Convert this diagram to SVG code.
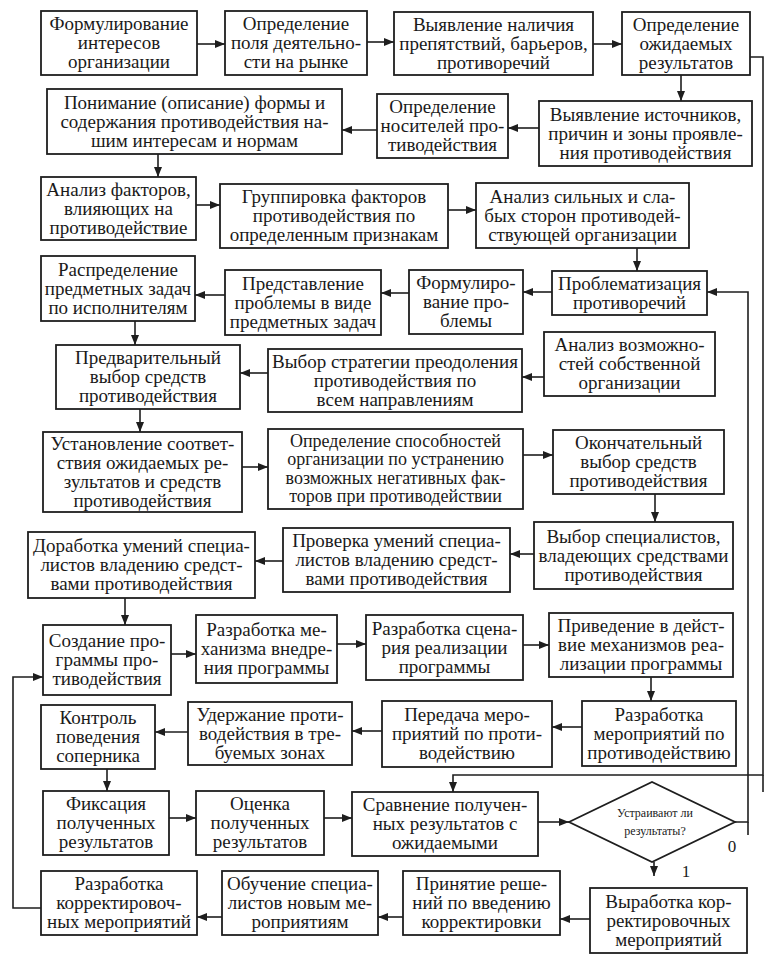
<svg xmlns="http://www.w3.org/2000/svg" width="779" height="976" viewBox="0 0 779 976">
<style>
.b{fill:#fff;stroke:#1e1e1e;stroke-width:1.8}
.t{font-family:"Liberation Serif","Times New Roman",serif;font-size:19px;text-anchor:middle;fill:#1a1a1a}
.t4{font-size:18px}
.s{font-family:"Liberation Serif","Times New Roman",serif;font-size:12px;text-anchor:middle;fill:#1a1a1a}
.c{fill:none;stroke:#1e1e1e;stroke-width:1.6}
.a{marker-end:url(#ar)}
</style>
<defs>
<marker id="ar" markerUnits="userSpaceOnUse" markerWidth="10" markerHeight="8" refX="10" refY="4" orient="auto">
<path d="M0,0 L10,4 L0,8 z" fill="#1e1e1e"/>
</marker>
</defs>
<rect width="779" height="976" fill="#fff"/>
<g id="connectors">
<path class="c a" d="M197,44 H225"/>
<path class="c a" d="M367,42 H394"/>
<path class="c a" d="M593,44 H622"/>
<path class="c a" d="M750,57 H763 V775 H453 V792"/>
<path class="c" d="M763,775 V792"/>
<path class="c a" d="M681,75 V101"/>
<path class="c a" d="M539,128 H508"/>
<path class="c a" d="M377,130 H342"/>
<path class="c a" d="M158,154 V177"/>
<path class="c a" d="M196,205 H220"/>
<path class="c a" d="M448,210 H476"/>
<path class="c a" d="M637,248 V271"/>
<path class="c a" d="M735,822 H748 V292 H707"/>
<path class="c" d="M748,822 V835"/>
<path class="c a" d="M552,292 H523"/>
<path class="c a" d="M409,293 H381"/>
<path class="c a" d="M225,295 H195"/>
<path class="c a" d="M135,321 V345"/>
<path class="c a" d="M268,373 H240"/>
<path class="c a" d="M544,377 H522"/>
<path class="c a" d="M140,409 V432"/>
<path class="c a" d="M242,467 H268"/>
<path class="c a" d="M523,455 H553"/>
<path class="c a" d="M655,494 V522"/>
<path class="c a" d="M534,554 H510"/>
<path class="c a" d="M283,561 H255"/>
<path class="c a" d="M125,598 V625"/>
<path class="c a" d="M171,654 H196"/>
<path class="c a" d="M337,644 H366"/>
<path class="c a" d="M523,645 H549"/>
<path class="c a" d="M651,677 V701"/>
<path class="c a" d="M582,727 H552"/>
<path class="c a" d="M382,731 H352"/>
<path class="c a" d="M188,732 H155"/>
<path class="c a" d="M107,769 V791"/>
<path class="c a" d="M169,818 H196"/>
<path class="c a" d="M324,818 H352"/>
<path class="c a" d="M538,822 H569"/>
<path class="c a" d="M654,862 V876"/>
<path class="c a" d="M590,919 H560"/>
<path class="c a" d="M403,917 H378"/>
<path class="c a" d="M222,917 H197"/>
<path class="c a" d="M41,908 H13 V677 H43"/>
</g>
<g id="n1"><rect class="b" x="41" y="11" width="156" height="64"/><text class="t" x="119" y="30">Формулирование</text><text class="t" x="119" y="49">интересов</text><text class="t" x="119" y="68">организации</text></g>
<g id="n2"><rect class="b" x="225" y="11" width="142" height="64"/><text class="t" x="296" y="30">Определение</text><text class="t" x="296" y="49">поля деятельно-</text><text class="t" x="296" y="68">сти на рынке</text></g>
<g id="n3"><rect class="b" x="394" y="12" width="199" height="63"/><text class="t" x="493.5" y="30.5">Выявление наличия</text><text class="t" x="493.5" y="49.5">препятствий, барьеров,</text><text class="t" x="493.5" y="68.5">противоречий</text></g>
<g id="n4"><rect class="b" x="622" y="12" width="128" height="63"/><text class="t" x="686" y="30.5">Определение</text><text class="t" x="686" y="49.5">ожидаемых</text><text class="t" x="686" y="68.5">результатов</text></g>
<g id="n5"><rect class="b" x="539" y="101" width="213" height="65"/><text class="t" x="645.5" y="120.5">Выявление источников,</text><text class="t" x="645.5" y="139.5">причин и зоны проявле-</text><text class="t" x="645.5" y="158.5">ния противодействия</text></g>
<g id="n6"><rect class="b" x="377" y="94" width="131" height="64"/><text class="t" x="442.5" y="113">Определение</text><text class="t" x="442.5" y="132">носителей про-</text><text class="t" x="442.5" y="151">тиводействия</text></g>
<g id="n7"><rect class="b" x="47" y="89" width="295" height="65"/><text class="t" x="194.5" y="108.5">Понимание (описание) формы и</text><text class="t" x="194.5" y="127.5">содержания противодействия на-</text><text class="t" x="194.5" y="146.5">шим интересам и нормам</text></g>
<g id="n8"><rect class="b" x="41" y="177" width="155" height="63"/><text class="t" x="118.5" y="195.5">Анализ факторов,</text><text class="t" x="118.5" y="214.5">влияющих на</text><text class="t" x="118.5" y="233.5">противодействие</text></g>
<g id="n9"><rect class="b" x="220" y="184" width="228" height="64"/><text class="t" x="334" y="203">Группировка факторов</text><text class="t" x="334" y="222">противодействия по</text><text class="t" x="334" y="241">определенным признакам</text></g>
<g id="n10"><rect class="b" x="476" y="183" width="213" height="65"/><text class="t" x="582.5" y="202.5">Анализ сильных и сла-</text><text class="t" x="582.5" y="221.5">бых сторон противодей-</text><text class="t" x="582.5" y="240.5">ствующей организации</text></g>
<g id="n11"><rect class="b" x="552" y="271" width="155" height="44"/><text class="t" x="629.5" y="289.5">Проблематизация</text><text class="t" x="629.5" y="308.5">противоречий</text></g>
<g id="n12"><rect class="b" x="409" y="270" width="114" height="64"/><text class="t" x="466" y="289">Формулиро-</text><text class="t" x="466" y="308">вание про-</text><text class="t" x="466" y="327">блемы</text></g>
<g id="n13"><rect class="b" x="225" y="270" width="156" height="65"/><text class="t" x="303" y="289.5">Представление</text><text class="t" x="303" y="308.5">проблемы в виде</text><text class="t" x="303" y="327.5">предметных задач</text></g>
<g id="n14"><rect class="b" x="41" y="256" width="154" height="65"/><text class="t" x="118" y="275.5">Распределение</text><text class="t" x="118" y="294.5">предметных задач</text><text class="t" x="118" y="313.5">по исполнителям</text></g>
<g id="n15"><rect class="b" x="56" y="345" width="184" height="64"/><text class="t" x="148" y="364">Предварительный</text><text class="t" x="148" y="383">выбор средств</text><text class="t" x="148" y="402">противодействия</text></g>
<g id="n16"><rect class="b" x="268" y="349" width="254" height="63"/><text class="t" x="395" y="367.5">Выбор стратегии преодоления</text><text class="t" x="395" y="386.5">противодействия по</text><text class="t" x="395" y="405.5">всем направлениям</text></g>
<g id="n17"><rect class="b" x="544" y="332" width="171" height="64"/><text class="t" x="629.5" y="351">Анализ возможно-</text><text class="t" x="629.5" y="370">стей собственной</text><text class="t" x="629.5" y="389">организации</text></g>
<g id="n18"><rect class="b" x="43" y="432" width="199" height="80"/><text class="t" x="142.5" y="449.5">Установление соответ-</text><text class="t" x="142.5" y="468.5">ствия ожидаемых ре-</text><text class="t" x="142.5" y="487.5">зультатов и средств</text><text class="t" x="142.5" y="506.5">противодействия</text></g>
<g id="n19"><rect class="b" x="268" y="429" width="255" height="80"/><text class="t t4" x="395.5" y="446.5">Определение способностей</text><text class="t t4" x="395.5" y="465">организации по устранению</text><text class="t t4" x="395.5" y="483.5">возможных негативных фак-</text><text class="t t4" x="395.5" y="502">торов при противодействии</text></g>
<g id="n20"><rect class="b" x="553" y="430" width="171" height="64"/><text class="t" x="638.5" y="449">Окончательный</text><text class="t" x="638.5" y="468">выбор средств</text><text class="t" x="638.5" y="487">противодействия</text></g>
<g id="n21"><rect class="b" x="534" y="522" width="199" height="67"/><text class="t" x="633.5" y="542.5">Выбор специалистов,</text><text class="t" x="633.5" y="561.5">владеющих средствами</text><text class="t" x="633.5" y="580.5">противодействия</text></g>
<g id="n22"><rect class="b" x="283" y="528" width="227" height="64"/><text class="t" x="396.5" y="547">Проверка умений специа-</text><text class="t" x="396.5" y="566">листов владению средст-</text><text class="t" x="396.5" y="585">вами  противодействия</text></g>
<g id="n23"><rect class="b" x="28" y="532" width="227" height="66"/><text class="t" x="141.5" y="552">Доработка умений специа-</text><text class="t" x="141.5" y="571">листов владению средст-</text><text class="t" x="141.5" y="590">вами противодействия</text></g>
<g id="n24"><rect class="b" x="43" y="625" width="128" height="70"/><text class="t" x="107" y="647">Создание про-</text><text class="t" x="107" y="666">граммы про-</text><text class="t" x="107" y="685">тиводействия</text></g>
<g id="n25"><rect class="b" x="196" y="615" width="141" height="68"/><text class="t" x="266.5" y="636">Разработка ме-</text><text class="t" x="266.5" y="655">ханизма внедре-</text><text class="t" x="266.5" y="674">ния программы</text></g>
<g id="n26"><rect class="b" x="366" y="615" width="157" height="65"/><text class="t" x="444.5" y="634.5">Разработка сцена-</text><text class="t" x="444.5" y="653.5">рия реализации</text><text class="t" x="444.5" y="672.5">программы</text></g>
<g id="n27"><rect class="b" x="549" y="613" width="184" height="64"/><text class="t" x="641" y="632">Приведение в дейст-</text><text class="t" x="641" y="651">вие механизмов реа-</text><text class="t" x="641" y="670">лизации программы</text></g>
<g id="n28"><rect class="b" x="582" y="701" width="154" height="65"/><text class="t" x="659" y="720.5">Разработка</text><text class="t" x="659" y="739.5">мероприятий по</text><text class="t" x="659" y="758.5">противодействию</text></g>
<g id="n29"><rect class="b" x="382" y="701" width="170" height="66"/><text class="t" x="467" y="721">Передача меро-</text><text class="t" x="467" y="740">приятий по проти-</text><text class="t" x="467" y="759">водействию</text></g>
<g id="n30"><rect class="b" x="188" y="702" width="164" height="63"/><text class="t" x="270" y="720.5">Удержание проти-</text><text class="t" x="270" y="739.5">водействия в тре-</text><text class="t" x="270" y="758.5">буемых зонах</text></g>
<g id="n31"><rect class="b" x="41" y="705" width="114" height="64"/><text class="t" x="98" y="724">Контроль</text><text class="t" x="98" y="743">поведения</text><text class="t" x="98" y="762">соперника</text></g>
<g id="n32"><rect class="b" x="43" y="791" width="126" height="64"/><text class="t" x="106" y="810">Фиксация</text><text class="t" x="106" y="829">полученных</text><text class="t" x="106" y="848">результатов</text></g>
<g id="n33"><rect class="b" x="196" y="791" width="128" height="64"/><text class="t" x="260" y="810">Оценка</text><text class="t" x="260" y="829">полученных</text><text class="t" x="260" y="848">результатов</text></g>
<g id="n34"><rect class="b" x="352" y="792" width="186" height="64"/><text class="t" x="445" y="811">Сравнение получен-</text><text class="t" x="445" y="830">ных результатов с</text><text class="t" x="445" y="849">ожидаемыми</text></g>
<g id="decision"><polygon class="b" points="569,822 652,782 735,822 652,862"/><text class="s" x="655" y="817">Устраивают ли</text><text class="s" x="655" y="835">результаты?</text><text class="t" x="732" y="852" style="font-size:17px">0</text><text class="t" x="686" y="877" style="font-size:17px">1</text></g>
<g id="n35"><rect class="b" x="590" y="888" width="157" height="65"/><text class="t" x="668.5" y="907.5">Выработка кор-</text><text class="t" x="668.5" y="926.5">ректировочных</text><text class="t" x="668.5" y="945.5">мероприятий</text></g>
<g id="n36"><rect class="b" x="403" y="871" width="157" height="64"/><text class="t" x="481.5" y="890">Принятие реше-</text><text class="t" x="481.5" y="909">ний по введению</text><text class="t" x="481.5" y="928">корректировки</text></g>
<g id="n37"><rect class="b" x="222" y="871" width="156" height="64"/><text class="t" x="300" y="890">Обучение специа-</text><text class="t" x="300" y="909">листов новым ме-</text><text class="t" x="300" y="928">роприятиям</text></g>
<g id="n38"><rect class="b" x="41" y="871" width="156" height="64"/><text class="t" x="119" y="890">Разработка</text><text class="t" x="119" y="909">корректировоч-</text><text class="t" x="119" y="928">ных мероприятий</text></g>
</svg>
